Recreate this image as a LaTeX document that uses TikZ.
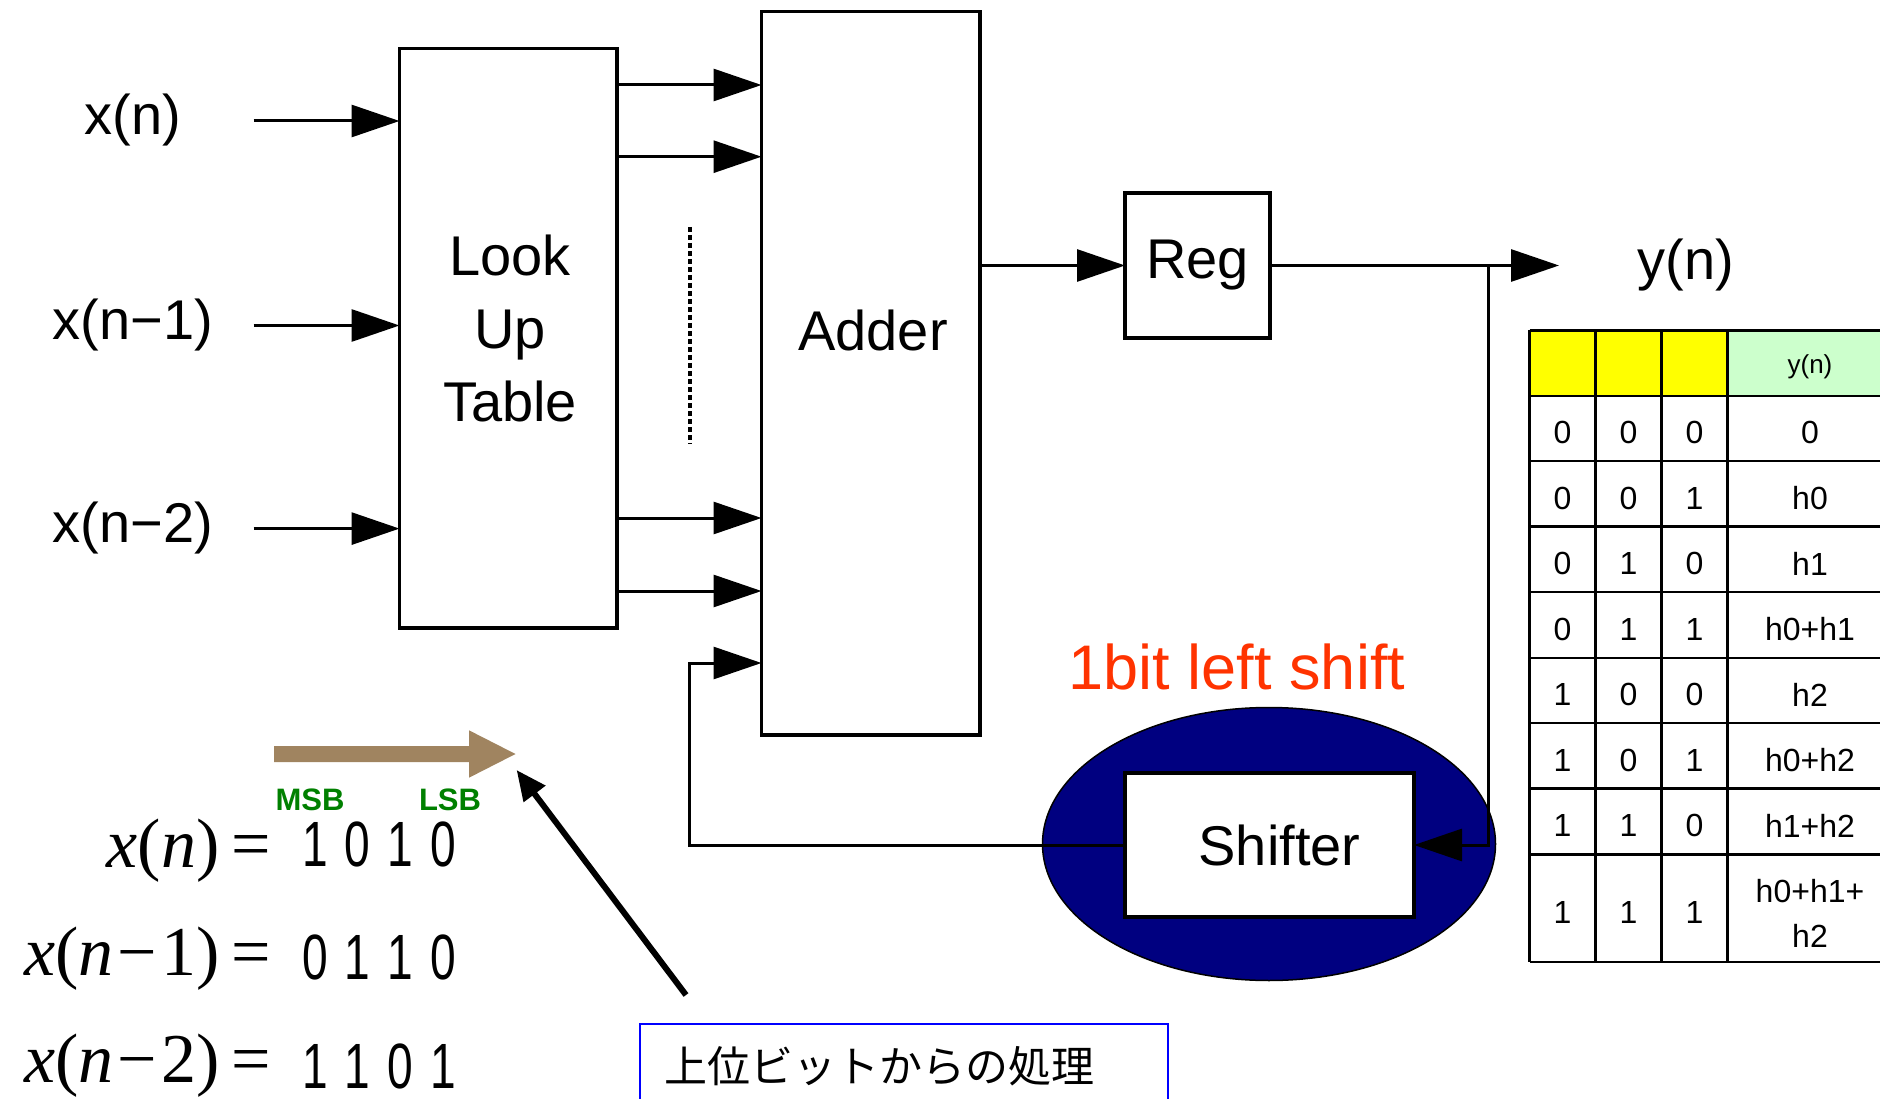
\documentclass[tikz,border=0pt]{standalone}
\usepackage{fontspec}
\setmainfont{Liberation Sans}
\newfontfamily\tmfont{Liberation Serif}
\newfontfamily\narrowfont[FakeStretch=0.72]{Liberation Sans}
\newfontfamily\cjkfont{Noto Sans CJK JP}
\usetikzlibrary{arrows.meta,shapes.geometric}
\definecolor{navyfill}{RGB}{0,0,128}
\definecolor{shiftred}{RGB}{255,51,0}
\definecolor{brownarrow}{RGB}{160,132,96}
\definecolor{msbgreen}{RGB}{0,128,0}
\definecolor{hdryellow}{RGB}{255,255,0}
\definecolor{hdrgreen}{RGB}{204,255,204}
\begin{document}
\begin{tikzpicture}[x=1pt,y=-1pt,
  box/.style={draw, line width=3.5pt, inner sep=0pt, outer sep=0pt},
  arr/.style={line width=3pt, -{Triangle[length=48pt,width=32pt]}},
  big/.style={font=\fontsize{56}{73}\selectfont},
  cell/.style={font=\fontsize{32}{45}\selectfont, inner sep=0pt},
  grid/.style={line width=2.5pt},
  eqm/.style={anchor=base east, inner sep=0pt, font=\tmfont\fontsize{70}{80}\selectfont},
  eqd/.style={anchor=base west, inner sep=0pt, font=\narrowfont\fontsize{64}{78}\selectfont},
  bitlbl/.style={font=\bfseries\fontsize{31}{37}\selectfont, text=msbgreen},
]
\useasboundingbox (0,0) rectangle (1880,1099);
\clip (0,0) rectangle (1880,1099);

% blocks
\node[box, minimum width=217.5pt, minimum height=579.5pt] (lut) at (508.25,338.25) {};
\node[big, align=center] (luttext) at (510,328) {Look\\Up\\Table};
\node[box, minimum width=218.5pt, minimum height=723.5pt] (adder) at (870.75,373.3) {};
\node[big] (addertext) at (873,330) {Adder};
\node[box, big, minimum width=145pt, minimum height=145pt] (reg) at (1197.5,265.5) {Reg};
\node[ellipse, draw, line width=1.5pt, fill=navyfill, minimum width=453pt, minimum height=273pt, inner sep=0pt] (ring) at (1269,844) {};
\node[box, big, fill=white, line width=4pt, minimum width=289pt, minimum height=144.6pt] (shifter) at (1269.5,845) {\hspace*{20pt}Shifter};

% input labels and arrows
\node[big] (xn0) at (133,120) {x(n)};
\node[big] (xn1) at (133,325) {x(n−1)};
\node[big] (xn2) at (133,528.5) {x(n−2)};
\coordinate (in0) at (253.6,121);
\coordinate (in1) at (253.6,325.5);
\coordinate (in2) at (253.6,528.6);
\draw[arr] (in0) -- (in0 -| lut.west);
\draw[arr] (in1) -- (in1 -| lut.west);
\draw[arr] (in2) -- (in2 -| lut.west);

% LUT -> Adder
\foreach \yy in {85,156.7,518,591}
  \draw[arr] (lut.east |- 0,\yy) -- (adder.west |- 0,\yy);
\coordinate (dtop) at (690,227);
\coordinate (dbot) at (690,444);
\draw[line width=3.5pt, dash pattern=on 5pt off 3pt] (dtop) -- (dbot);

% Adder -> Reg -> y(n)
\draw[arr] (adder.east |- reg.west) -- (reg.west);
\coordinate (yout) at (1559,265.5);
\draw[arr] (reg.east) -- (yout);
\node[big] (ylbl) at (1686,265) {y(n)};
\coordinate (br) at (1488,265.5);
\draw[arr] (br) |- (shifter.east);

% feedback
\coordinate (fb) at (689,663);
\draw[arr] (shifter.west) -| (fb) -- (fb -| adder.west);

\node[font=\fontsize{63}{75}\selectfont, text=shiftred] (shiftlbl) at (1237,667) {1bit left shift};

% MSB/LSB arrow
\fill[brownarrow] (274,746) -- (469,746) -- (469,730.3) -- (515.5,754) -- (469,777.7) -- (469,762) -- (274,762) -- cycle;
\node[bitlbl] (msb) at (310,800) {MSB};
\node[bitlbl] (lsb) at (450,800) {LSB};

% equations
\node[eqm] (eq0) at (271,867) {\textit{x}(\textit{n})\hspace{12pt}=};
\node[eqm] (eq1) at (271,975) {\textit{x}(\textit{n}\hspace{4pt}−\hspace{4pt}1)\hspace{12pt}=};
\node[eqm] (eq2) at (271,1082) {\textit{x}(\textit{n}\hspace{4pt}−\hspace{4pt}2)\hspace{12pt}=};
\node[eqd] (bits0) at (302,866) {1\hspace{17pt}0\hspace{17pt}1\hspace{17pt}0};
\node[eqd] (bits1) at (302,979) {0\hspace{17pt}1\hspace{17pt}1\hspace{17pt}0};
\node[eqd] (bits2) at (302,1088) {1\hspace{17pt}1\hspace{17pt}0\hspace{17pt}1};

% pointer and note
\coordinate (ptail) at (686,995);
\coordinate (ptip) at (516.6,770);
\draw[line width=6pt, -{Triangle[length=30pt,width=26pt]}] (ptail) -- (ptip);
\node[draw=blue, line width=2pt, anchor=west, minimum height=84pt, text width=480pt, align=left, inner xsep=24pt, inner ysep=0pt, font=\cjkfont\fontsize{43}{50}\selectfont] (note) at (639,1066) {上位ビットからの処理};

% table
\fill[hdryellow] (1529.5,330.5) rectangle (1727.5,396);
\fill[hdrgreen] (1727.5,330.5) rectangle (1893,396);
\foreach \yy in {330.5,396,461,526.5,592,658,723,788.5,854.5,962}
  \draw[grid] (1529.5,\yy) -- (1893,\yy);
\foreach \xx in {1529.5,1595.5,1661.5,1727.5}
  \draw[grid] (\xx,330.5) -- (\xx,962);
\node[font=\fontsize{26}{30}\selectfont, inner sep=0pt] (hy) at (1810,367) {y(n)};
\foreach \a/\b/\c/\d [count=\i] in {0/0/0/0, 0/0/1/h0, 0/1/0/h1, 0/1/1/h0+h1, 1/0/0/h2, 1/0/1/h0+h2, 1/1/0/h1+h2} {
  \pgfmathsetmacro\yc{432.5+(\i-1)*65.5}
  \node[cell] (r\i-1) at (1562.5,\yc) {\a};
  \node[cell] (r\i-2) at (1628.5,\yc) {\b};
  \node[cell] (r\i-3) at (1694.5,\yc) {\c};
  \node[cell] (r\i-4) at (1810,\yc) {\d};
}
\node[cell] (r8-1) at (1562.5,912) {1};
\node[cell] (r8-2) at (1628.5,912) {1};
\node[cell] (r8-3) at (1694.5,912) {1};
\node[cell, align=center] (r8-4) at (1810,913) {h0+h1+\\h2};
\end{tikzpicture}
\end{document}
